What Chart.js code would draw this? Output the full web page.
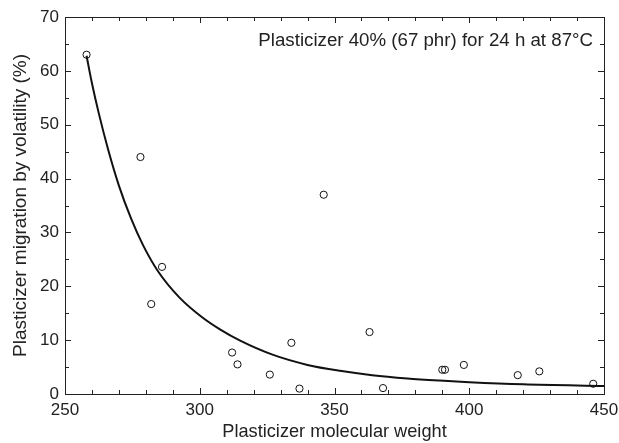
<!DOCTYPE html>
<html>
<head>
<meta charset="utf-8">
<script src="https://cdn.jsdelivr.net/npm/chart.js@4.4.1/dist/chart.umd.min.js"></script>
<style>
  html, body { margin: 0; padding: 0; background: #fff; }
  #wrap { width: 619px; height: 443px; }
</style>
</head>
<body>
<div id="wrap"><canvas id="chart" width="619" height="443"></canvas></div>
<script>
// measured points
const molWeight = [258, 278, 346, 286, 282, 312, 314, 334, 326, 337, 363, 368, 390, 391, 398, 418, 426, 446];
const migration = [63, 44, 37, 23.6, 16.7, 7.7, 5.5, 9.5, 3.6, 1.0, 11.5, 1.1, 4.5, 4.5, 5.4, 3.5, 4.2, 1.9];

// fitted curve
const curveX = [258, 260, 262.5, 266, 270, 274.5, 279, 284.5, 292.5, 301, 307.5, 315, 327, 340, 352, 364, 377, 389, 400, 420, 450];
const curveY = [62.8, 57.7, 52.2, 45.4, 38.7, 32.6, 27.6, 22.8, 17.9, 14.2, 12.0, 9.9, 7.3, 5.4, 4.3, 3.5, 2.9, 2.5, 2.2, 1.8, 1.5];

const note = 'Plasticizer 40% (67 phr) for 24 h at 87\u00b0C';
const ink = '#222';
const fontFam = 'Arial, "Liberation Sans", sans-serif';

// inward ticks on all four sides + frame + note
const frame = {
    id: 'frame',
    afterDraw(chart) {
        const {ctx, chartArea: a, scales: {x, y}} = chart;
        ctx.save();
        ctx.strokeStyle = ink;
        ctx.lineWidth = 1;
        ctx.beginPath();
        for (let v = 250; v <= 450; v += 10) {
            const px = Math.round(x.getPixelForValue(v)) + 0.5;
            const len = v % 50 === 0 ? 6 : 4;
            ctx.moveTo(px, a.bottom); ctx.lineTo(px, a.bottom - len);
            ctx.moveTo(px, a.top); ctx.lineTo(px, a.top + len);
        }
        for (let v = 0; v <= 70; v += 5) {
            const py = Math.round(y.getPixelForValue(v)) + 0.5;
            const len = v % 10 === 0 ? 6 : 4;
            ctx.moveTo(a.left, py); ctx.lineTo(a.left + len, py);
            ctx.moveTo(a.right, py); ctx.lineTo(a.right - len, py);
        }
        ctx.stroke();
        ctx.strokeRect(Math.round(a.left) + 0.5, Math.round(a.top) + 0.5,
            Math.round(a.right - a.left), Math.round(a.bottom - a.top));
        ctx.fillStyle = ink;
        ctx.font = '18.7px ' + fontFam;
        ctx.textAlign = 'right';
        ctx.textBaseline = 'middle';
        ctx.fillText(note, a.right - 11, a.top + 24);
        ctx.restore();
    }
};

const ctx = document.getElementById('chart').getContext('2d');
const chart = new Chart(ctx, {
    type: 'scatter',
    data: {
        datasets: [{
            label: 'fit',
            type: 'line',
            data: curveX.map((v, i) => ({x: v, y: curveY[i]})),
            borderColor: '#111',
            borderWidth: 2,
            pointRadius: 0,
            fill: false,
            cubicInterpolationMode: 'monotone'
        }, {
            label: 'data',
            data: molWeight.map((v, i) => ({x: v, y: migration[i]})),
            pointRadius: 3.6,
            pointBorderWidth: 1,
            pointBorderColor: '#111',
            pointBackgroundColor: 'rgba(255,255,255,0)'
        }]
    },
    options: {
        responsive: false,
        animation: false,
        layout: { padding: { top: 17, right: 15, left: 0, bottom: 0 } },
        plugins: {
            legend: { display: false },
            tooltip: { enabled: false }
        },
        scales: {
            x: {
                type: 'linear',
                min: 250, max: 450,
                grid: { display: false, drawTicks: false },
                border: { display: false },
                ticks: { stepSize: 50, padding: 6, color: ink, font: { size: 17, family: fontFam } },
                title: { display: true, text: 'Plasticizer molecular weight', color: ink,
                    font: { size: 18.2, family: fontFam }, padding: { top: 0, bottom: 0 } },
                afterFit(s) { s.height = 49; s.paddingLeft = 0; s.paddingRight = 0; }
            },
            y: {
                min: 0, max: 70,
                grid: { display: false, drawTicks: false },
                border: { display: false },
                ticks: { stepSize: 10, padding: 6, color: ink, font: { size: 17, family: fontFam } },
                title: { display: true, text: 'Plasticizer migration by volatility (%)', color: ink,
                    font: { size: 19, family: fontFam }, padding: { top: 9, bottom: 0 } },
                afterFit(s) { s.width = 65; s.paddingTop = 0; s.paddingBottom = 0; }
            }
        }
    },
    plugins: [frame]
});
</script>
</body>
</html>
